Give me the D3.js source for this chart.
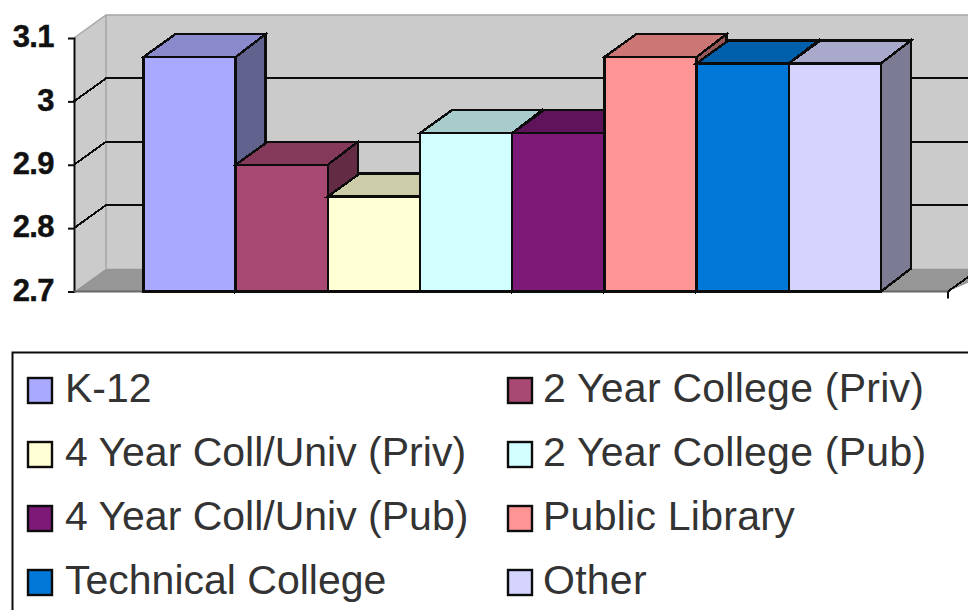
<!DOCTYPE html>
<html>
<head>
<meta charset="utf-8">
<script src="https://cdnjs.cloudflare.com/ajax/libs/d3/7.8.5/d3.min.js"></script>
<style>
html,body{margin:0;padding:0;background:#fff;overflow:hidden}
svg{display:block;font-family:"Liberation Sans",Arial,sans-serif}
.tick text{font-weight:700;font-size:31px;fill:#111;letter-spacing:-0.6px}
</style>
</head>
<body>
<svg id="chart" width="968" height="610"></svg>
<script>
// Survey score by institution type
const categories = ["K-12","2 Year College (Priv)","4 Year Coll/Univ (Priv)","2 Year College (Pub)",
  "4 Year Coll/Univ (Pub)","Public Library","Technical College","Other"];
const scores = [3.07,2.9,2.85,2.95,2.95,3.07,3.06,3.06];
const yTicks = [2.7,2.8,2.9,3,3.1];

const frontColors = ["#a9a9ff","#a84973","#ffffd5","#d2ffff","#7d1a78","#ff9494","#0078d7","#d4d4ff"];
const topColors   = ["#8989cc","#85395b","#cccca9","#a8cccc","#5f135a","#cc7676","#005fab","#a9a9cc"];
const sideColors  = ["#62628f","#642b45","#99997f","#7e9999","#470e44","#995858","#00477f","#7b7b94"];

const svg = d3.select("#chart");
const ink = "#0c0c0c";

// Oblique projection of the chart box
const wallDx = 32, wallDy = -23, barDx = 30;
const x = d3.scaleBand().domain(categories).range([143.5,881]).padding(0);
const y = d3.scaleLinear().domain([2.7,3.1]).range([291.5,38]);
const axisX = 74, axisEnd = 948, wallFar = 1000;
const y0 = y(2.7), yTop = y(3.1);
const poly = pts => pts.map(p => p.join(",")).join(" ");

// Back wall, side wall and floor
svg.append("polygon")
  .attr("points", poly([[axisX+wallDx,yTop+wallDy],[wallFar,yTop+wallDy],[wallFar,y0+wallDy],[axisX+wallDx,y0+wallDy]]))
  .attr("fill","#cbcbcb");
svg.append("polygon")
  .attr("points", poly([[axisX,y0],[axisX,yTop],[axisX+wallDx,yTop+wallDy],[axisX+wallDx,y0+wallDy]]))
  .attr("fill","#cbcbcb");
svg.append("polygon")
  .attr("points", poly([[axisX,y0],[axisX+wallDx,y0+wallDy],[wallFar,y0+wallDy],[axisEnd,y0]]))
  .attr("fill","#969696");

// Wall outlines
const grayEdge = "#a6a6a6";
svg.append("path")
  .attr("d",`M${axisX},${yTop}L${axisX+wallDx},${yTop+wallDy}L${wallFar},${yTop+wallDy}M${axisX+wallDx},${yTop+wallDy}V${y0+wallDy}`)
  .attr("fill","none").attr("stroke",grayEdge).attr("stroke-width",1.5);

// Gridlines wrap from the side wall onto the back wall
const gridTicks = yTicks.filter(t => t > 2.7 && t < 3.1);
svg.append("g").selectAll("path").data(gridTicks).join("path")
  .attr("d", t => `M${axisX},${y(t)}L${axisX+wallDx},${y(t)+wallDy}H${wallFar}`)
  .attr("fill","none").attr("stroke",ink).attr("stroke-width",2)
  .attr("shape-rendering","crispEdges");

// Value axis
const axis = d3.axisLeft(y).tickValues(yTicks).tickFormat(d3.format("~g")).tickSize(6).tickPadding(14);
const axisG = svg.append("g").attr("transform",`translate(${axisX},0)`).call(axis);
axisG.select(".domain").attr("stroke",ink).attr("stroke-width",2);
axisG.selectAll(".tick line").attr("stroke",ink).attr("stroke-width",2);
axisG.selectAll(".tick text").attr("dy","0.28em").attr("stroke","#111").attr("stroke-width",0.4);
axisG.selectAll(".tick").filter(t => t === 3.1).select("line").remove();

// Category baseline with its closing tick
svg.append("path")
  .attr("d",`M${axisX},${y0}H${axisEnd}`)
  .attr("fill","none").attr("stroke","#666").attr("stroke-width",2);
svg.append("path")
  .attr("d",`M${axisEnd},${y0}v7`)
  .attr("fill","none").attr("stroke",ink).attr("stroke-width",2);
svg.append("path")
  .attr("d",`M${axisEnd},${y0}l${wallDx},${wallDy}`)
  .attr("fill","none").attr("stroke",ink).attr("stroke-width",2)
  .attr("shape-rendering","crispEdges");

// Bars, painted left to right so each one overlaps its neighbour's side
const bars = svg.append("g").selectAll("g").data(categories).join("g")
  .attr("stroke",ink).attr("stroke-width",2.4).attr("stroke-linejoin","miter")
  .attr("shape-rendering","crispEdges");
bars.each(function(c,i){
  const g = d3.select(this);
  const l = x(c), r = l + x.bandwidth(), t = y(scores[i]);
  g.append("polygon").attr("fill",sideColors[i])
    .attr("points",poly([[r,t],[r+barDx,t+wallDy],[r+barDx,y0+wallDy],[r,y0]]));
  g.append("polygon").attr("fill",topColors[i])
    .attr("points",poly([[l,t],[l+wallDx,t+wallDy],[r+barDx,t+wallDy],[r,t]]));
  g.append("rect").attr("fill",frontColors[i])
    .attr("x",l).attr("y",t).attr("width",x.bandwidth()).attr("height",y0-t);
});

// Legend
svg.append("rect").attr("x",12.5).attr("y",352.5).attr("width",1000).attr("height",400)
  .attr("fill","#fff").attr("stroke",ink).attr("stroke-width",2);
const legendCol = d3.scalePoint().domain([0,1]).range([28,508]);
const legendRow = d3.scalePoint().domain([0,1,2,3]).range([390,582]);
const legend = svg.append("g").selectAll("g").data(categories).join("g")
  .attr("transform",(c,i)=>`translate(${legendCol(i%2)},${legendRow(Math.floor(i/2))})`);
legend.append("rect").attr("x",0).attr("y",-12).attr("width",24).attr("height",25)
  .attr("fill",(c,i)=>frontColors[i]).attr("stroke",ink).attr("stroke-width",2.4);
legend.append("text").text(c=>c).attr("x",(c,i)=>i%2?35:37).attr("y",0).attr("dy","0.29em")
  .attr("font-size",41).attr("fill","#333").attr("font-weight",400)
  .attr("letter-spacing",(c,i)=>i%2?0.25:0);
</script>
</body>
</html>
